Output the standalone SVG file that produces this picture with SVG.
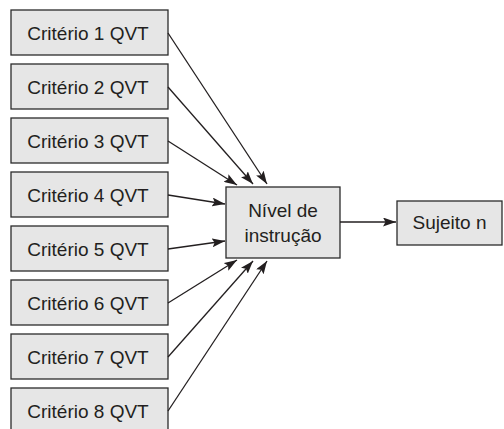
<svg xmlns="http://www.w3.org/2000/svg" width="504" height="429" viewBox="0 0 504 429">
<style>
.box{fill:#e6e6e6;stroke:#2b2b2b;stroke-width:1.3}
.t{font-family:"Liberation Sans","DejaVu Sans",sans-serif;font-size:19px;fill:#231f20;text-anchor:middle}
.c{stroke:#231f20;stroke-width:1.3;fill:none;marker-end:url(#ah)}
</style>
<defs>
<marker id="ah" viewBox="0 0 13 9" refX="13" refY="4.5" markerWidth="13" markerHeight="9" markerUnits="userSpaceOnUse" orient="auto">
<path d="M0,0 L13,4.5 L0,9 L2.5,4.5 Z" fill="#231f20"/>
</marker>
</defs>
<rect width="504" height="429" fill="#ffffff"/>
<g id="c1"><rect class="box" x="11" y="10" width="157" height="45"/><text class="t" x="88" y="39.5">Critério 1 QVT</text></g>
<g id="c2"><rect class="box" x="11" y="64" width="157" height="45"/><text class="t" x="88" y="93.5">Critério 2 QVT</text></g>
<g id="c3"><rect class="box" x="11" y="118" width="157" height="45"/><text class="t" x="88" y="147.5">Critério 3 QVT</text></g>
<g id="c4"><rect class="box" x="11" y="172" width="157" height="45"/><text class="t" x="88" y="201.5">Critério 4 QVT</text></g>
<g id="c5"><rect class="box" x="11" y="226" width="157" height="45"/><text class="t" x="88" y="255.5">Critério 5 QVT</text></g>
<g id="c6"><rect class="box" x="11" y="280" width="157" height="45"/><text class="t" x="88" y="309.5">Critério 6 QVT</text></g>
<g id="c7"><rect class="box" x="11" y="334" width="157" height="45"/><text class="t" x="88" y="363.5">Critério 7 QVT</text></g>
<g id="c8"><rect class="box" x="11" y="388" width="157" height="45"/><text class="t" x="88" y="417.5">Critério 8 QVT</text></g>
<g id="nivel"><rect class="box" x="226" y="187" width="114" height="71"/><text class="t" x="283" y="217">Nível de</text><text class="t" x="283" y="242">instrução</text></g>
<g id="sujeito"><rect class="box" x="397" y="201" width="105" height="44"/><text class="t" x="449.5" y="229">Sujeito n</text></g>
<g id="connectors">
<line class="c" x1="168" y1="33" x2="267" y2="184"/>
<line class="c" x1="168" y1="87" x2="253" y2="184"/>
<line class="c" x1="168" y1="141" x2="237" y2="185"/>
<line class="c" x1="168" y1="195" x2="225" y2="204"/>
<line class="c" x1="168" y1="249" x2="225" y2="241"/>
<line class="c" x1="168" y1="303" x2="237" y2="260"/>
<line class="c" x1="168" y1="357" x2="253" y2="261"/>
<line class="c" x1="168" y1="411" x2="267" y2="261"/>
<line class="c" x1="340" y1="222" x2="396" y2="222"/>
</g>
</svg>
